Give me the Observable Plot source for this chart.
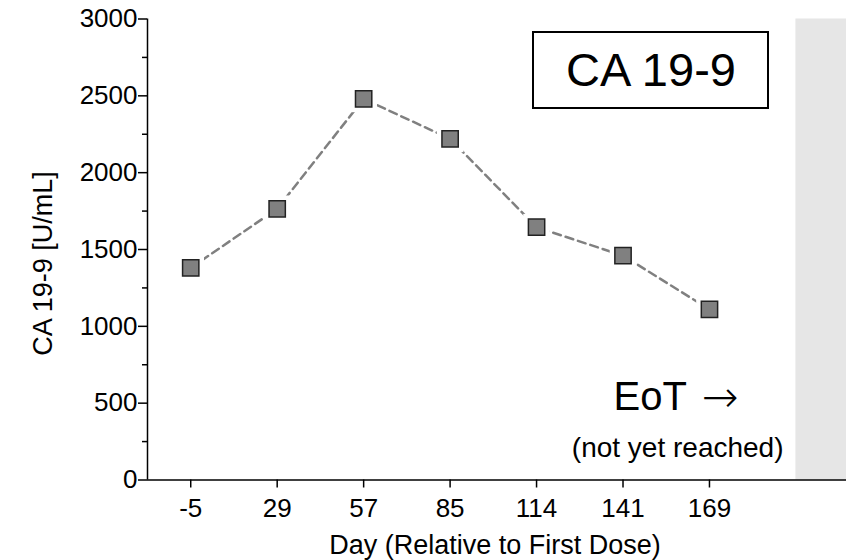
<!DOCTYPE html>
<html><head><meta charset="utf-8">
<script src="https://cdn.jsdelivr.net/npm/d3@7"></script>
<script src="https://cdn.jsdelivr.net/npm/@observablehq/plot@0.6"></script>
<style>html,body{margin:0;padding:0;background:#fff} svg{display:block}</style>
</head><body><div id="chart"></div>
<script>
// ---- data ----
const dayLabels = ["-5", "29", "57", "85", "114", "141", "169"];
const ca199 = [1380, 1765, 2480, 2220, 1645, 1460, 1110];
const yTicks = [0, 500, 1000, 1500, 2000, 2500, 3000];
const yMinorTicks = [250, 750, 1250, 1750, 2250, 2750];
const markerLabel = ["CA 19-9"];
const eotLabel = ["EoT"];
const eotArrow = ["\u2192"];
const eotNote = ["(not yet reached)"];
const yTitle = ["CA 19-9 [U/mL]"];
const xTitle = ["Day (Relative to First Dose)"];

const points = dayLabels.map((d, i) => ({i, day: d, value: ca199[i]}));
const xStart = -0.5, xEnd = 7.585;
const eotBand = [{x1: dayLabels.length, x2: xEnd, y1: 0, y2: 3000}];

const FONT = "'Liberation Sans', Arial, Helvetica, sans-serif";

// box drawn around the marker label (layout in pixels, relative to the frame)
function labelBox(index, scales, values, dim) {
  const r = document.createElementNS("http://www.w3.org/2000/svg", "rect");
  const right = dim.width - dim.marginRight;
  r.setAttribute("x", right - 313);
  r.setAttribute("y", dim.marginTop + 13.5);
  r.setAttribute("width", 235);
  r.setAttribute("height", 76);
  r.setAttribute("fill", "white");
  r.setAttribute("stroke", "black");
  r.setAttribute("stroke-width", 2);
  return r;
}

const chart = Plot.plot({
  width: 846,
  height: 560,
  marginLeft: 147,
  marginRight: 0,
  marginTop: 18.5,
  marginBottom: 80.5,
  style: {fontFamily: FONT, fontSize: "26px", background: "white", color: "black"},
  x: {type: "linear", domain: [xStart, xEnd], axis: null},
  y: {domain: [0, 3000], axis: null},
  marks: [
    Plot.rect(eotBand, {x1: "x1", x2: "x2", y1: "y1", y2: "y2", fill: "#e6e6e6"}),
    Plot.axisY({ticks: yTicks, tickFormat: d => String(d), tickSize: 9, tickPadding: 1, fontSize: 26, stroke: "black", strokeWidth: 1.5, label: null}),
    Plot.axisY({ticks: yMinorTicks, tickSize: 5, tickFormat: () => "", stroke: "black", strokeWidth: 1.5, label: null}),
    Plot.axisX({ticks: d3.range(dayLabels.length), tickFormat: i => dayLabels[i], tickSize: 8, tickPadding: 11, fontSize: 26, stroke: "black", strokeWidth: 1.5, label: null}),
    Plot.ruleX([xStart], {stroke: "black", strokeWidth: 1.5}),
    Plot.ruleY([0], {stroke: "black", strokeWidth: 1.5}),
    Plot.line(points, {x: "i", y: "value", stroke: "#808080", strokeWidth: 2.5, strokeDasharray: "8,5"}),
    Plot.dot(points, {x: "i", y: "value", symbol: "square", r: 15, fill: "white", stroke: "none"}),
    Plot.dot(points, {x: "i", y: "value", symbol: "square", r: 9.2, fill: "#808080", stroke: "#222", strokeWidth: 1.5}),
    labelBox,
    Plot.text(markerLabel, {text: d => d, frameAnchor: "top-right", dx: -195.5, dy: 51.5, textAnchor: "middle", lineAnchor: "middle", fontSize: 47, fill: "black"}),
    Plot.text(eotLabel, {text: d => d, frameAnchor: "bottom-right", dx: -233, dy: -83, textAnchor: "start", lineAnchor: "middle", fontSize: 40, fill: "black"}),
    Plot.text(eotArrow, {text: d => d, frameAnchor: "bottom-right", dx: -145, dy: -82, textAnchor: "start", lineAnchor: "middle", fontSize: 44, fontFamily: "'DejaVu Sans'", fontWeight: 200, fill: "black"}),
    Plot.text(eotNote, {text: d => d, frameAnchor: "bottom-right", dx: -63, dy: -32, textAnchor: "end", lineAnchor: "middle", fontSize: 28, fill: "black"}),
    Plot.text(yTitle, {text: d => d, frameAnchor: "left", dx: -104.5, dy: 14, rotate: -90, textAnchor: "middle", lineAnchor: "middle", fontSize: 27, fill: "black"}),
    Plot.text(xTitle, {text: d => d, frameAnchor: "bottom", dx: -2, dy: 65, textAnchor: "middle", lineAnchor: "middle", fontSize: 27, fill: "black"})
  ]
});
document.getElementById("chart").appendChild(chart);
</script>
</body></html>
